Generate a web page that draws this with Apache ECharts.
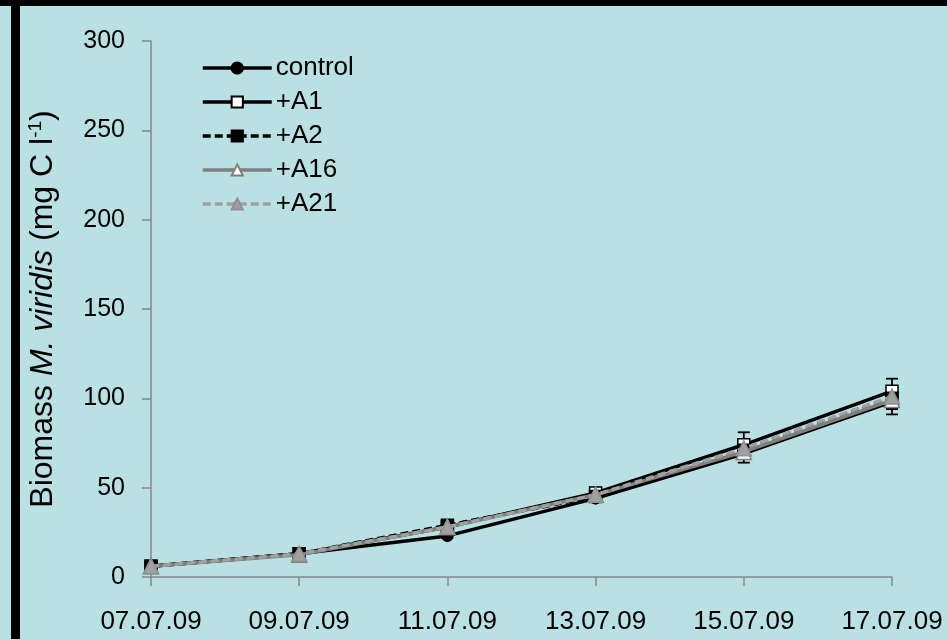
<!DOCTYPE html>
<html>
<head>
<meta charset="utf-8">
<script src="https://cdn.jsdelivr.net/npm/echarts@6/dist/echarts.min.js"></script>
<style>
  html, body { margin: 0; padding: 0; background: #b9e0e3; }
  #chart { width: 947px; height: 639px; }
</style>
</head>
<body>
<div id="chart"></div>
<script>
// Sampling dates (every second day)
const dates = ['07.07.09', '09.07.09', '11.07.09', '13.07.09', '15.07.09', '17.07.09'];

// Biomass of M. viridis (mg C l-1) per treatment
const control = [6, 13, 23, 44, 69, 98];
const a1      = [6, 13, 28, 47, 74, 104];
const a2      = [6, 13, 29, 45, 71, 100];
const a16     = [6, 12.5, 28, 46, 70, 99];
const a21     = [6, 13, 28, 46, 72, 101];

// Standard deviations
const controlSd = [0.5, 0.5, 1, 2, 5, 7];
const a1Sd      = [0.5, 0.5, 1, 3, 7, 7];
const a2Sd      = [0.5, 0.5, 1, 2, 4, 6];
const a16Sd     = [0.5, 0.5, 1, 2, 4, 5];
const a21Sd     = [0.5, 0.5, 1, 2, 4, 5];

const yTicks = { min: 0, max: 300, step: 50 };

const FONT = 'Liberation Sans';
const chart = echarts.init(document.getElementById('chart'), null, { renderer: 'canvas' });

function errorSeries(values, sd, z) {
  return {
    type: 'custom',
    z: z,
    silent: true,
    data: values.map((v, i) => [i, v - sd[i], v + sd[i]]),
    renderItem: function (params, api) {
      const x = api.value(0);
      const lo = api.coord([x, api.value(1)]);
      const hi = api.coord([x, api.value(2)]);
      const cap = 6;
      const style = { stroke: '#000', lineWidth: 1.8 };
      return {
        type: 'group',
        children: [
          { type: 'line', shape: { x1: lo[0], y1: lo[1], x2: hi[0], y2: hi[1] }, style: style },
          { type: 'line', shape: { x1: lo[0] - cap, y1: lo[1], x2: lo[0] + cap, y2: lo[1] }, style: style },
          { type: 'line', shape: { x1: hi[0] - cap, y1: hi[1], x2: hi[0] + cap, y2: hi[1] }, style: style }
        ]
      };
    }
  };
}

function lineSeries(name, data, opt) {
  return {
    name: name,
    type: 'line',
    data: data,
    z: opt.z,
    symbol: opt.symbol,
    symbolSize: opt.size,
    showAllSymbol: true,
    lineStyle: { color: opt.line, width: 3.5, type: opt.dash ? [8, 4] : 'solid' },
    itemStyle: { color: opt.fill, borderColor: opt.border, borderWidth: 1.5 },
    emphasis: { disabled: true }
  };
}

chart.setOption({
  backgroundColor: '#b9e0e3',
  animation: false,
  grid: { left: 151, right: 55, top: 41, bottom: 62, containLabel: false },
  legend: {
    left: 201,
    top: 55,
    padding: 0,
    orient: 'vertical',
    itemWidth: 69,
    itemHeight: 14,
    itemGap: 8,
    lineStyle: { width: 3.5 },
    textStyle: { fontFamily: FONT, fontSize: 26, color: '#000', padding: [0, 0, 0, -1] },
    data: ['control', '+A1', '+A2', '+A16', '+A21']
  },
  xAxis: {
    type: 'category',
    data: dates,
    boundaryGap: false,
    axisLine: { lineStyle: { color: '#888', width: 1.5 } },
    axisTick: { show: true, length: 9, lineStyle: { color: '#888', width: 1.5 } },
    axisLabel: { color: '#000', fontFamily: FONT, fontSize: 26, margin: 32 },
    splitLine: { show: false }
  },
  yAxis: {
    type: 'value',
    min: yTicks.min,
    max: yTicks.max,
    interval: yTicks.step,
    axisLine: { show: true, lineStyle: { color: '#888', width: 1.5 } },
    axisTick: { show: true, length: 9, lineStyle: { color: '#888', width: 1.5 } },
    axisLabel: { color: '#000', fontFamily: FONT, fontSize: 25, margin: 26 },
    splitLine: { show: false },
    name: '{n|Biomass }{i|M. viridis}{n| (mg C l}{s|-1}{n|)}',
    nameLocation: 'middle',
    nameRotate: 90,
    nameGap: 90,
    nameTextStyle: {
      color: '#000',
      fontFamily: FONT,
      fontSize: 32,
      rich: {
        n: { fontFamily: FONT, fontSize: 32, color: '#000' },
        i: { fontFamily: FONT, fontSize: 32, fontStyle: 'italic', color: '#000' },
        s: { fontFamily: FONT, fontSize: 19, color: '#000', padding: [0, 0, 16, 0] }
      }
    }
  },
  graphic: [
    { type: 'rect', left: 0, top: 0, shape: { width: 947, height: 6 }, style: { fill: '#000' }, z: 100 },
    { type: 'rect', left: 11, top: 0, shape: { width: 9, height: 639 }, style: { fill: '#000' }, z: 100 }
  ],
  series: [
    errorSeries(control, controlSd, 1),
    errorSeries(a1, a1Sd, 1),
    errorSeries(a2, a2Sd, 1),
    errorSeries(a16, a16Sd, 1),
    errorSeries(a21, a21Sd, 1),
    lineSeries('control', control, { z: 2, symbol: 'circle', size: 11, line: '#000', fill: '#000', border: '#000' }),
    lineSeries('+A1', a1, { z: 3, symbol: 'rect', size: 12, line: '#000', fill: '#fff', border: '#000' }),
    lineSeries('+A2', a2, { z: 4, symbol: 'rect', size: 12, line: '#000', fill: '#000', border: '#000', dash: true }),
    lineSeries('+A16', a16, { z: 5, symbol: 'triangle', size: 15, line: '#808080', fill: '#fff', border: '#808080' }),
    lineSeries('+A21', a21, { z: 6, symbol: 'triangle', size: 15, line: '#a0a0a0', fill: '#a0a0a0', border: '#909090', dash: true })
  ]
});
</script>
</body>
</html>
